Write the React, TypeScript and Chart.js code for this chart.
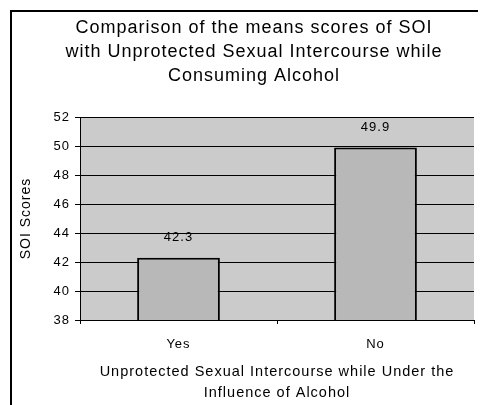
import React, { useEffect, useRef } from "react";
import { Chart, registerables } from "chart.js";

Chart.register(...registerables);

const categories = ["Yes", "No"];
const meanScores = [42.3, 49.9];
const titleLines = [
  "Comparison of the means scores of SOI",
  "with Unprotected Sexual Intercourse while",
  "Consuming Alcohol",
];
const xTitleLines = [
  "Unprotected Sexual Intercourse while Under the",
  "Influence of Alcohol",
];
const yTitle = "SOI Scores";
const yMin = 38;
const yMax = 52;
const yStep = 2;

const FONT = "'Liberation Sans', Arial, Helvetica, sans-serif";

const setSpacing = (chart: any) => {
  if (chart.ctx) chart.ctx.letterSpacing = "1px";
};

const framePlugin = {
  id: "frameAndBg",
  beforeUpdate(chart: any) {
    setSpacing(chart);
  },
  beforeLayout(chart: any) {
    setSpacing(chart);
  },
  afterLayout(chart: any) {
    if (chart.titleBlock) {
      chart.titleBlock.left = 34;
      chart.titleBlock.right = 474;
    }
  },
  beforeDraw(chart: any) {
    const { ctx, chartArea } = chart;
    setSpacing(chart);
    ctx.save();
    ctx.fillStyle = "#ffffff";
    ctx.fillRect(0, 0, chart.width, chart.height);
    ctx.fillStyle = "#000000";
    ctx.fillRect(10, 10, 2, chart.height - 10);
    ctx.fillRect(10, 10, 468, 2);
    ctx.fillStyle = "#cbcbcb";
    ctx.fillRect(
      chartArea.left,
      chartArea.top,
      chartArea.right - chartArea.left,
      chartArea.bottom - chartArea.top
    );
    ctx.restore();
  },
};

const labelPlugin = {
  id: "valueLabels",
  afterDatasetsDraw(chart: any) {
    const { ctx } = chart;
    const meta = chart.getDatasetMeta(0);
    const data = chart.data.datasets[0].data as number[];
    ctx.save();
    ctx.font = `13px ${FONT}`;
    ctx.fillStyle = "#000";
    ctx.textAlign = "center";
    ctx.textBaseline = "middle";
    meta.data.forEach((el: any, i: number) => {
      ctx.fillText(data[i].toFixed(1), el.x, el.y - 20);
    });
    ctx.restore();
  },
};

export default function App() {
  const ref = useRef<HTMLCanvasElement | null>(null);
  useEffect(() => {
    if (!ref.current) return;
    const chart = new Chart(ref.current, {
      type: "bar",
      data: {
        labels: categories,
        datasets: [
          {
            data: meanScores,
            backgroundColor: "#b8b8b8",
            borderColor: "#000000",
            borderWidth: 2,
            categoryPercentage: 1,
            barPercentage: 0.42,
          },
        ],
      },
      options: {
        animation: false,
        responsive: false,
        maintainAspectRatio: false,
        layout: { padding: { left: 12, top: 12, right: 8, bottom: 2 } },
        plugins: {
          legend: { display: false },
          tooltip: { enabled: false },
          title: {
            display: true,
            text: titleLines,
            color: "#000",
            font: { family: FONT, size: 18, weight: "normal", lineHeight: 24 / 18 },
            padding: { top: 4, bottom: 29 },
          },
        },
        scales: {
          x: {
            afterFit(scale: any) {
              scale.height = 83;
            },
            grid: {
              drawOnChartArea: false,
              drawTicks: true,
              tickLength: 4,
              color: "#000",
            },
            border: { color: "#000", width: 1 },
            ticks: {
              color: "#000",
              font: { family: FONT, size: 13 },
              padding: 13,
            },
            title: {
              display: true,
              text: xTitleLines,
              color: "#000",
              font: { family: FONT, size: 14.5, lineHeight: 21 / 14.5 },
              padding: { top: 9, bottom: 0 },
            },
          },
          y: {
            min: yMin,
            max: yMax,
            afterFit(scale: any) {
              scale.width = 68;
            },
            grid: {
              color: "#000",
              lineWidth: 1,
              drawTicks: true,
              tickLength: 5,
            },
            border: { color: "#000", width: 1 },
            ticks: {
              stepSize: yStep,
              color: "#000",
              font: { family: FONT, size: 13 },
              padding: 5,
            },
            title: {
              display: true,
              text: yTitle,
              color: "#000",
              font: { family: FONT, size: 14 },
              padding: { top: 6, bottom: 0 },
            },
          },
        },
      },
      plugins: [framePlugin, labelPlugin],
    });
    return () => chart.destroy();
  }, []);
  return (
    <div style={{ position: "fixed", left: 0, top: 0, width: 482, height: 405 }}>
      <canvas ref={ref} width={482} height={405} />
    </div>
  );
}
